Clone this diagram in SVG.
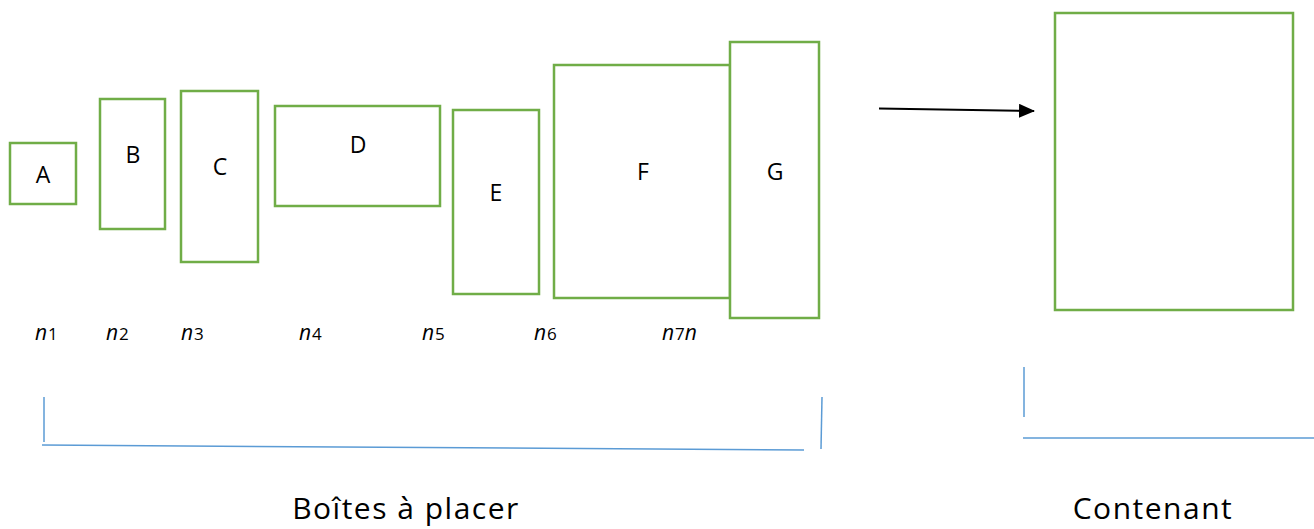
<svg xmlns="http://www.w3.org/2000/svg" width="1314" height="529" viewBox="0 0 1314 529">
<defs>
<style>
.box{fill:#fff;stroke:#70AD47;stroke-width:2.5}
.lbl{font-family:"Open Sans","Liberation Sans",sans-serif;font-size:23px;fill:#000;text-anchor:middle}
.n{font-family:"Open Sans","Liberation Sans",sans-serif;font-size:21px;fill:#000}
.d{font-size:17px}
.big{font-family:"Open Sans","Liberation Sans",sans-serif;font-size:30px;letter-spacing:1.5px;fill:#000;text-anchor:middle}
.bl{stroke:#5B9BD5;stroke-width:1.5;fill:none}
</style>
<marker id="ah" markerWidth="16" markerHeight="14" refX="15" refY="7" orient="auto" markerUnits="userSpaceOnUse" viewBox="0 0 16 14">
<path d="M0,0 L16,7 L0,14 z" fill="#000"/>
</marker>
</defs>
<rect width="1314" height="529" fill="#fff"/>
<g id="node-A"><rect class="box" x="10" y="143" width="66" height="61"/><text class="lbl" x="43" y="183">A</text></g>
<g id="node-B"><rect class="box" x="100" y="99" width="65" height="130"/><text class="lbl" x="133" y="163">B</text></g>
<g id="node-C"><rect class="box" x="181" y="91" width="77" height="171"/><text class="lbl" x="220" y="175">C</text></g>
<g id="node-D"><rect class="box" x="275" y="106" width="165" height="100"/><text class="lbl" x="358" y="153">D</text></g>
<g id="node-E"><rect class="box" x="453" y="110" width="86" height="184"/><text class="lbl" x="496" y="201">E</text></g>
<g id="node-F"><rect class="box" x="554" y="65" width="176" height="233"/><text class="lbl" x="643" y="180">F</text></g>
<g id="node-G"><rect class="box" x="730" y="42" width="89" height="276"/><text class="lbl" x="775" y="180">G</text></g>
<g id="node-container"><rect class="box" x="1055" y="13" width="238" height="297"/></g>
<g id="connectors">
<line x1="879" y1="108.5" x2="1034" y2="111" stroke="#000" stroke-width="2" marker-end="url(#ah)"/>
<line class="bl" x1="44" y1="397" x2="44" y2="442"/>
<line class="bl" x1="42" y1="445" x2="804" y2="450"/>
<line class="bl" x1="822" y1="397" x2="821" y2="449"/>
<line class="bl" x1="1024" y1="367" x2="1024" y2="417"/>
<line class="bl" x1="1023" y1="438" x2="1314" y2="438"/>
</g>
<g id="n-labels">
<text class="n" x="35" y="340"><tspan font-style="italic">n</tspan><tspan class="d" dx="1">1</tspan></text>
<text class="n" x="106" y="340"><tspan font-style="italic">n</tspan><tspan class="d" dx="1">2</tspan></text>
<text class="n" x="181" y="340"><tspan font-style="italic">n</tspan><tspan class="d" dx="1">3</tspan></text>
<text class="n" x="299" y="340"><tspan font-style="italic">n</tspan><tspan class="d" dx="1">4</tspan></text>
<text class="n" x="422" y="340"><tspan font-style="italic">n</tspan><tspan class="d" dx="1">5</tspan></text>
<text class="n" x="534" y="340"><tspan font-style="italic">n</tspan><tspan class="d" dx="1">6</tspan></text>
<text class="n" x="662" y="340"><tspan font-style="italic">n</tspan><tspan class="d" dx="1">7</tspan><tspan font-style="italic">n</tspan></text>
</g>
<text class="big" x="406" y="519">Boîtes à placer</text>
<text class="big" x="1153" y="519">Contenant</text>
</svg>
